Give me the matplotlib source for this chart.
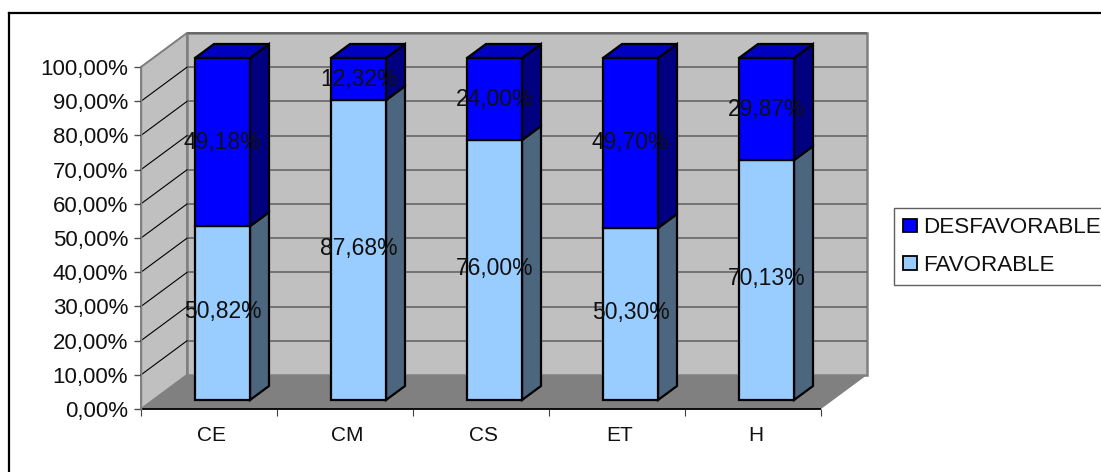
import matplotlib
matplotlib.use("Agg")
import matplotlib.pyplot as plt
from matplotlib.lines import Line2D
from matplotlib.patches import Patch, Polygon

# =====================================================
# DATA
# =====================================================

categories = ["CE", "CM", "CS", "ET", "H"]
favorable = [50.82, 87.68, 76.00, 50.30, 70.13]
desfavorable = [49.18, 12.32, 24.00, 49.70, 29.87]
fav_labels = ["50,82%", "87,68%", "76,00%", "50,30%", "70,13%"]
des_labels = ["49,18%", "12,32%", "24,00%", "49,70%", "29,87%"]
y_ticks = [0, 10, 20, 30, 40, 50, 60, 70, 80, 90, 100]
y_tick_labels = ["%d,00%%" % t for t in y_ticks]

# =====================================================
# LAYOUT (pixels of the 1101x472 picture)
# =====================================================

W, H = 1101, 472
LEFT, RIGHT, BASE, TOP = 141, 821, 409, 67

PX_X = len(categories) / (RIGHT - LEFT)
PX_Y = 100 / (BASE - TOP)

WALL_DX = 46 * PX_X
WALL_DY = 34 * PX_Y
BAR_DX = 19 * PX_X
BAR_DY = 14 * PX_Y
BAR_W = 55 * PX_X
BAR_SHIFT = 13.5 * PX_X
BAR_LIFT = 9 * PX_Y

plt.rcParams["font.family"] = ["Liberation Sans", "DejaVu Sans"]
FONT = 16
VALUE_FONT = 16.5
LEGEND_FONT = 16.1
CAT_FONT = 15

fig = plt.figure(figsize=(W / 100, H / 100), dpi=100)
ax = fig.add_axes([
    LEFT / W,
    (H - BASE) / H,
    (RIGHT - LEFT) / W,
    (BASE - TOP) / H,
])
ax.set_xlim(0, len(categories))
ax.set_ylim(0, 100)
ax.patch.set_visible(False)
for s in ax.spines.values():
    s.set_visible(False)


def poly(points, face, edge, lw, z):
    ax.add_patch(Polygon(points, closed=True, facecolor=face, edgecolor=edge,
                         linewidth=lw, clip_on=False, zorder=z, joinstyle="miter"))


n = len(categories)

# =====================================================
# WALLS AND FLOOR
# =====================================================

poly([(0, 0), (WALL_DX, WALL_DY), (WALL_DX, 100 + WALL_DY), (0, 100)],
     "#C0C0C0", "#808080", 1.4, 1)
poly([(WALL_DX, WALL_DY), (n + WALL_DX, WALL_DY),
      (n + WALL_DX, 100 + WALL_DY), (WALL_DX, 100 + WALL_DY)],
     "#C0C0C0", "#808080", 1.8, 1)
poly([(0, 0), (n, 0), (n + WALL_DX, WALL_DY), (WALL_DX, WALL_DY)],
     "#808080", "none", 0, 2)

for t in y_ticks[1:]:
    ax.plot([WALL_DX, n + WALL_DX], [t + WALL_DY, t + WALL_DY], color="#5F5F5F",
            lw=1.1, clip_on=False, zorder=3, solid_capstyle="butt")
    ax.plot([0, WALL_DX], [t, t + WALL_DY], color="black" if t < 100 else "#808080",
            lw=0.8, clip_on=False, zorder=3)

ax.plot([0, n], [0, 0], color="black", lw=1.3, clip_on=False, zorder=4,
        solid_capstyle="butt")
ax.plot([0, 0], [0, 100], color="#808080", lw=1.0, clip_on=False, zorder=4)

# =====================================================
# BARS
# =====================================================

x_pos = [i + 0.5 + BAR_SHIFT for i in range(n)]
fav_bottom = [BAR_LIFT] * n
des_bottom = [BAR_LIFT + v for v in favorable]

ax.bar(x_pos, favorable, BAR_W, bottom=fav_bottom, color="#99CCFF",
       edgecolor="black", linewidth=1.6, clip_on=False, zorder=6)
ax.bar(x_pos, desfavorable, BAR_W, bottom=des_bottom, color="#0000FF",
       edgecolor="black", linewidth=1.6, clip_on=False, zorder=6)

for x, f, d in zip(x_pos, favorable, desfavorable):
    r = x + BAR_W / 2
    l = x - BAR_W / 2
    y0 = BAR_LIFT
    y1 = BAR_LIFT + f
    y2 = y1 + d
    poly([(r, y0), (r + BAR_DX, y0 + BAR_DY), (r + BAR_DX, y1 + BAR_DY), (r, y1)],
         "#4D6680", "black", 1.6, 5)
    poly([(r, y1), (r + BAR_DX, y1 + BAR_DY), (r + BAR_DX, y2 + BAR_DY), (r, y2)],
         "#000080", "black", 1.6, 5)
    poly([(l, y2), (r, y2), (r + BAR_DX, y2 + BAR_DY), (l + BAR_DX, y2 + BAR_DY)],
         "#0000C0", "black", 1.6, 5)

# =====================================================
# VALUE LABELS
# =====================================================

for x, f, d, fl, dl in zip(x_pos, favorable, desfavorable, fav_labels, des_labels):
    ax.text(x, BAR_LIFT + f / 2 + 1.5 * PX_Y, fl, ha="center", va="center",
            fontsize=VALUE_FONT, color="#101010", zorder=8, clip_on=False)
    ax.text(x, BAR_LIFT + f + d / 2, dl, ha="center", va="center",
            fontsize=VALUE_FONT, color="#101010", zorder=8, clip_on=False)

# =====================================================
# TICKS
# =====================================================

ax.set_yticks(y_ticks)
ax.set_yticklabels(y_tick_labels, fontsize=FONT, color="#101010")
ax.tick_params(axis="y", length=5, width=1.0, color="#505050", pad=4.3)

ax.set_xticks(range(n + 1))
ax.set_xticklabels([])
ax.tick_params(axis="x", which="major", length=5, width=0.8, color="#404040")
ax.set_xticks([i + 0.5 + 2.5 * PX_X for i in range(n)], minor=True)
ax.set_xticklabels(categories, minor=True, fontsize=CAT_FONT, color="#101010")
ax.tick_params(axis="x", which="minor", length=0, pad=12.2)

# =====================================================
# LEGEND AND FRAME
# =====================================================

handles = [
    Patch(facecolor="#0000FF", edgecolor="black", linewidth=1.3),
    Patch(facecolor="#99CCFF", edgecolor="black", linewidth=1.3),
]
leg = fig.legend(
    handles, ["DESFAVORABLE", "FAVORABLE"],
    loc="upper left",
    bbox_to_anchor=(894 / W, (H - 208) / H),
    borderaxespad=0,
    fontsize=LEGEND_FONT,
    fancybox=False,
    framealpha=1,
    edgecolor="#606060",
    handlelength=0.6,
    handleheight=0.58,
    handletextpad=0.27,
    borderpad=0.42,
    labelspacing=0.74,
    labelcolor="#101010",
)
leg.get_frame().set_linewidth(1.0)

fig.add_artist(Line2D([8.5 / W, 8.5 / W], [0, (H - 12.5) / H], color="black", lw=1.6,
                      transform=fig.transFigure))
fig.add_artist(Line2D([8.5 / W, 1], [(H - 12.5) / H, (H - 12.5) / H], color="black", lw=1.6,
                      transform=fig.transFigure))

fig.savefig("out.png", dpi=100)
plt.close(fig)
